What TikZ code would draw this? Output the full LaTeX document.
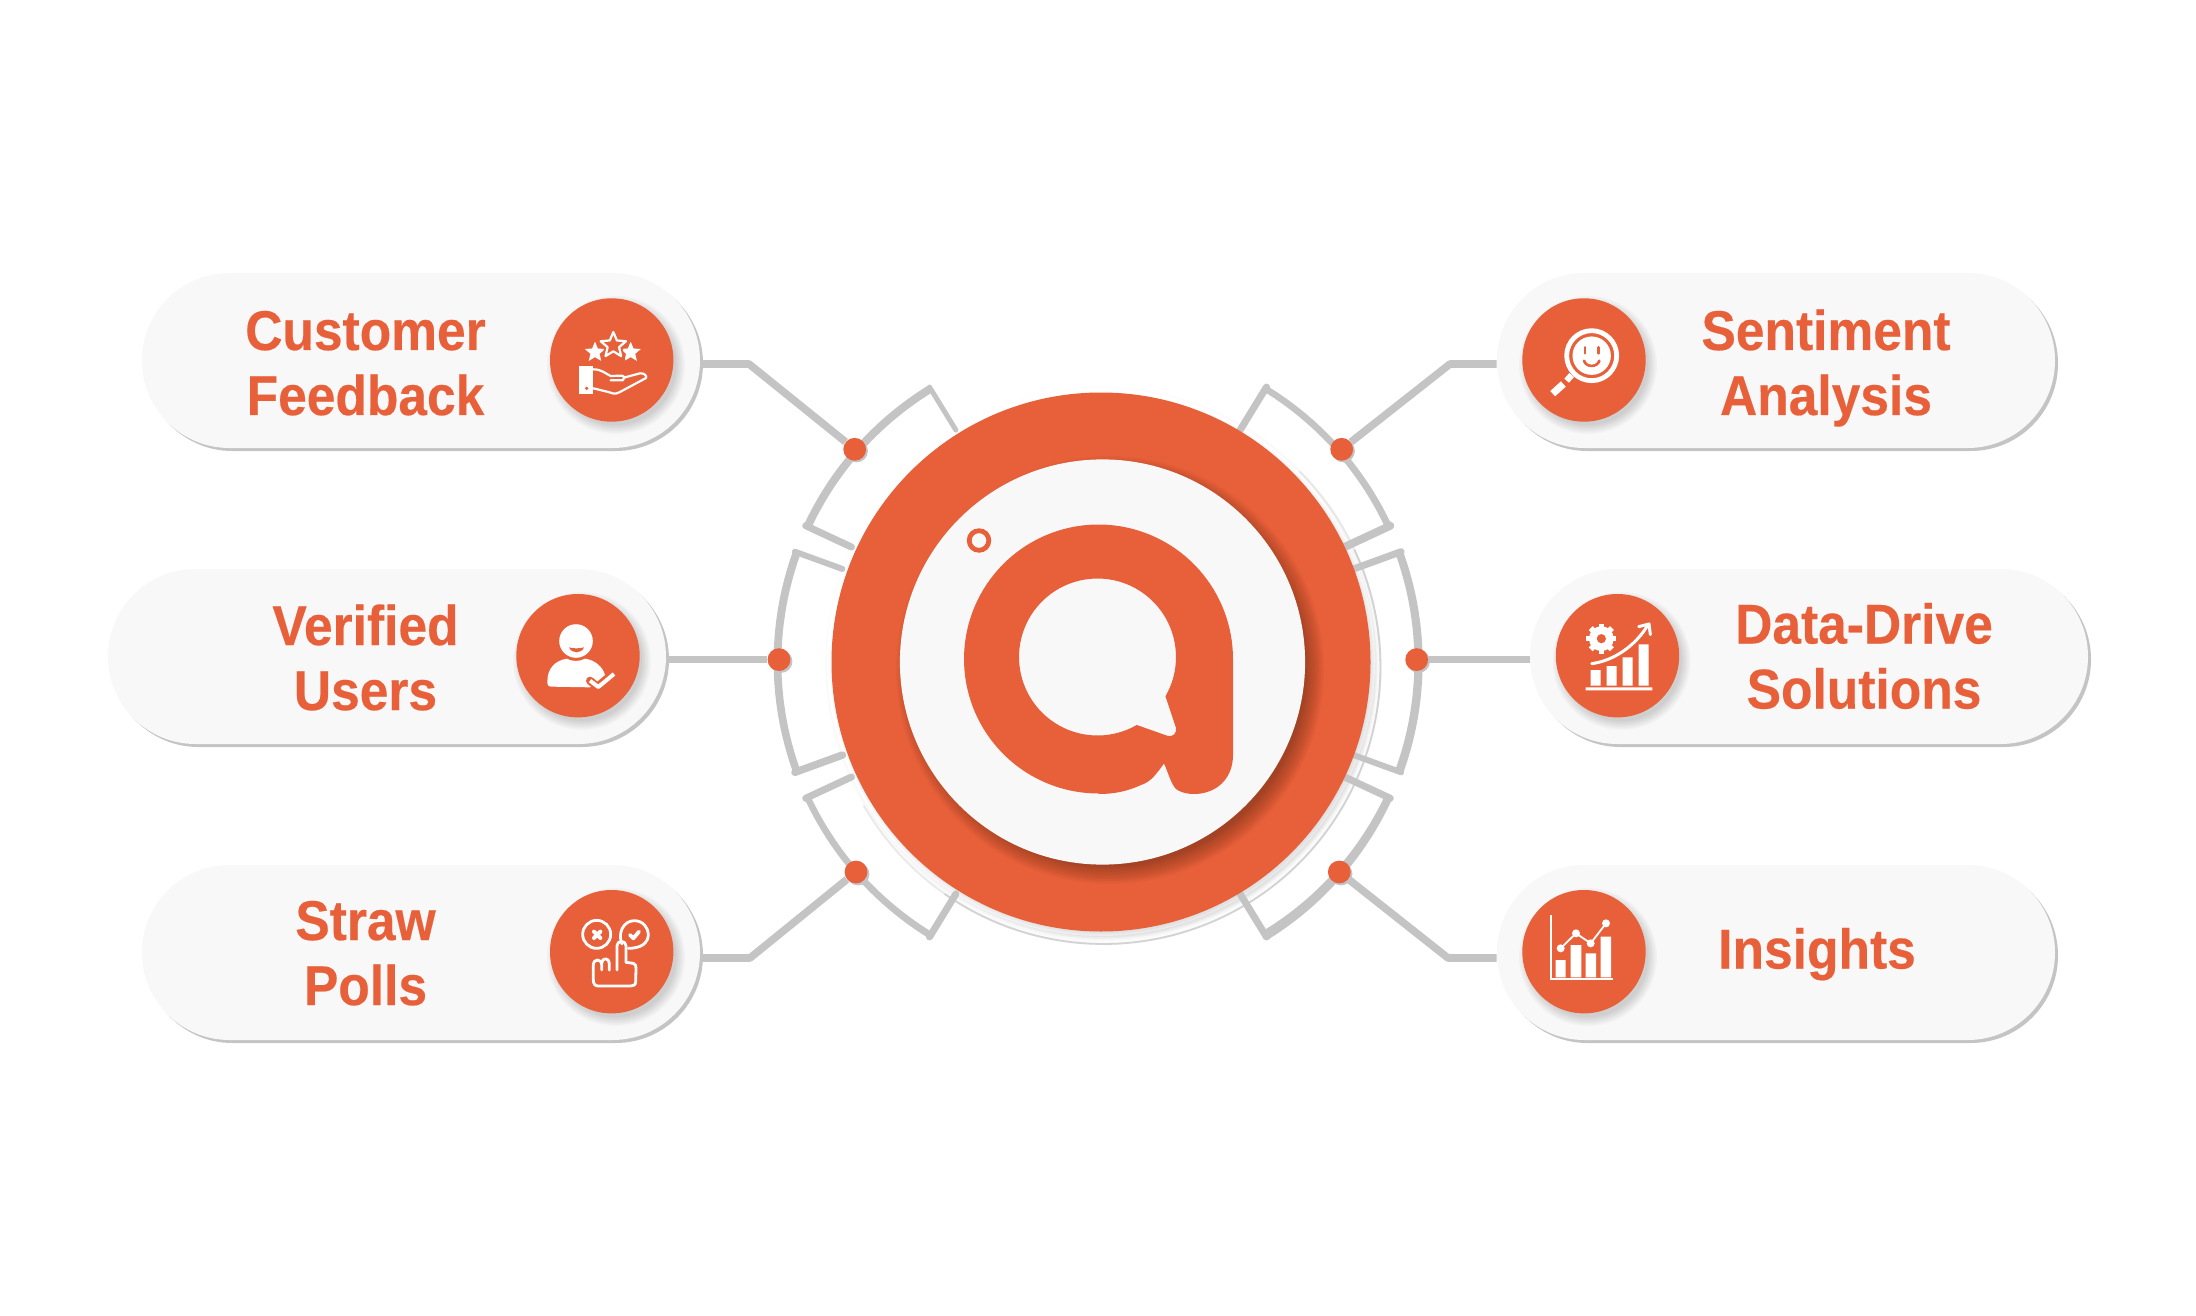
\documentclass[tikz,border=0pt]{standalone}
\usepackage{fontspec}
\setmainfont{Liberation Sans}[FakeStretch=0.92,FakeBold=0.35]
\definecolor{brand}{HTML}{E86039}
\definecolor{barg}{HTML}{C4C4C4}
\definecolor{paper}{HTML}{F8F8F8}
\tikzset{
  pillbox/.style={rectangle,rounded corners=43.7pt,fill=paper,minimum width=#1,minimum height=87.5pt,inner sep=0pt},
  pillrim/.style={rectangle,rounded corners=43.7pt,fill=barg,minimum width=#1,minimum height=87.5pt,inner sep=0pt},
  iconbase/.style={circle,fill=brand,minimum size=61.7pt,inner sep=0pt},
  dotnode/.style={circle,fill=brand,minimum size=11.4pt,inner sep=0pt},
  dotrim/.style={circle,fill=barg,minimum size=11.4pt,inner sep=0pt},
  label/.style={text=brand,font=\fontsize{28}{32.5}\selectfont\bfseries,align=center,inner sep=0pt},
  wire/.style={draw=barg,line width=3.8pt,line join=round},
  tabline/.style={draw=barg,line join=round,line cap=round},
  wl/.style={draw=white,line join=round,line cap=round,line width=#1},
  icn/.style={shift={#1},x=0.16667pt,y=-0.16667pt}
}
\newcommand\softshadow[5]{\foreach \k in {0,1.5,...,#4}{\fill[black,opacity=#5] (#1,#2) circle[radius={(#3+\k)*0.5pt}];}}
\newcommand\arcband[4]{%
  \fill[barg] plot[domain=#1:#2,samples=40,variable=\a] ({1098+(320.5+(#3+(#4-#3)*(\a-(#1))/((#2)-(#1)))/2)*cos(\a)},{662-(320.5+(#3+(#4-#3)*(\a-(#1))/((#2)-(#1)))/2)*sin(\a)})
  -- plot[domain=#2:#1,samples=40,variable=\a] ({1098+(320.5-(#3+(#4-#3)*(\a-(#1))/((#2)-(#1)))/2)*cos(\a)},{662-(320.5-(#3+(#4-#3)*(\a-(#1))/((#2)-(#1)))/2)*sin(\a)}) -- cycle;}
\newcommand\tabbar[2]{\draw[tabline,line width=#2*0.5pt] ({1098+322.5*cos(#1)},{662-322.5*sin(#1)}) -- ({1098+272*cos(#1)},{662-272*sin(#1)});}
\newcommand\iconstar[4]{\path[#4] plot[samples at={0,1,...,9},variable=\t] ({#1+(mod(\t,2)==0?#3:#3*0.45)*cos(90+36*\t)},{#2-(mod(\t,2)==0?#3:#3*0.45)*sin(90+36*\t)}) -- cycle;}
\begin{document}
\begin{tikzpicture}[x=0.5pt,y=-0.5pt]
\useasboundingbox (0,0) rectangle (2196,1316);
\fill[white] (0,0) rectangle (2196,1316);

% halo ring behind the disc
\softshadow{1103}{665}{272}{6}{0.012}
\fill[white] (1101,662) circle[radius=137pt];
\draw[barg,line width=0.9pt,opacity=.35] plot[domain=-150:45,samples=80,variable=\a] ({1103.5+277*cos(\a)},{667-277*sin(\a)});
\draw[barg,line width=0.9pt,opacity=.6] plot[domain=-125:25,samples=80,variable=\a] ({1103.5+277*cos(\a)},{667-277*sin(\a)});
\softshadow{1104}{666}{267}{7}{0.025}

% brackets
\arcband{121.5}{155}{8}{8}  \tabbar{121.5}{5} \tabbar{155}{7}
\arcband{160}{200}{8}{7.5}  \tabbar{160}{6}   \tabbar{200}{7.5}
\arcband{205}{238.5}{6.5}{7}\tabbar{205}{7}   \tabbar{238.5}{7}
\arcband{25}{58.5}{7}{6.5}  \tabbar{25}{8}    \tabbar{58.5}{7}
\arcband{-20}{20}{8.5}{8}   \tabbar{20}{7}    \tabbar{-20}{6}
\arcband{-58.5}{-25}{10}{8} \tabbar{-25}{7}   \tabbar{-58.5}{7}

% pills
\node[pillrim=279pt] at (424,363.5) {};
\node[pillrim=279pt] at (390,659.5) {};
\node[pillrim=279pt] at (424,955.5) {};
\node[pillrim=279pt] at (1779,363.5) {};
\node[pillrim=279pt] at (1812,659.5) {};
\node[pillrim=279pt] at (1779,955.5) {};
\node[pillbox=279pt] (p1) at (421,360.5) {};
\node[pillbox=279pt] (p2) at (387,656.5) {};
\node[pillbox=279pt] (p3) at (421,952.5) {};
\node[pillbox=279pt] (p4) at (1776,360.5) {};
\node[pillbox=279pt] (p5) at (1809,656.5) {};
\node[pillbox=279pt] (p6) at (1776,952.5) {};

% dots
\node[dotrim] at (856.5,451) {};
\node[dotrim] at (781,661.5) {};
\node[dotrim] at (858,874) {};
\node[dotrim] at (1343.5,451) {};
\node[dotrim] at (1418.5,661.5) {};
\node[dotrim] at (1341,874) {};
\node[dotnode] (d1) at (854.7,449.3) {};
\node[dotnode] (d2) at (779,659.6) {};
\node[dotnode] (d3) at (856,872) {};
\node[dotnode] (d4) at (1341.7,449.3) {};
\node[dotnode] (d5) at (1416.7,659.6) {};
\node[dotnode] (d6) at (1339.3,872) {};

% connectors
\coordinate (e1) at (749,364);
\coordinate (e3) at (750,958);
\coordinate (e4) at (1450,364);
\coordinate (e6) at (1448,958);
\draw[wire] (d1) -- (e1) -- (p1.east |- e1);
\draw[wire] (d2) -- (p2.east |- d2);
\draw[wire] (d3) -- (e3) -- (p3.east |- e3);
\draw[wire] (d4) -- (e4) -- (p4.west |- e4);
\draw[wire] (d5) -- (p5.west |- d5);
\draw[wire] (d6) -- (e6) -- (p6.west |- e6);

% central disc
\node[circle,fill=brand,minimum size=269.5pt,inner sep=0pt] (outer) at (1101,662) {};
\softshadow{1110}{670}{196}{18}{0.025}
\node[circle,fill=paper,minimum size=202.6pt,inner sep=0pt] (inner) at (1102.5,662) {};

% logo
\fill[brand,even odd rule]
  plot[domain=180:0,samples=70,variable=\a] ({1098.5+134.5*cos(\a)},{659-134.5*sin(\a)})
  -- (1233,755) .. controls (1233,780) and (1215,794) .. (1194,794)
  .. controls (1186,794) and (1180,792) .. (1176,789)
  .. controls (1171,784) and (1168,772) .. (1164,763.5)
  .. controls (1157,773) and (1151,782) .. (1141,785)
  .. controls (1128,791) and (1115,794) .. (1098.5,794)
  -- plot[domain=270:180,samples=40,variable=\a] ({1098.5+134.5*cos(\a)},{659-134.5*sin(\a)}) -- cycle
  plot[domain=-30:300,samples=90,variable=\a] ({1097.5+78.5*cos(\a)},{657-78.5*sin(\a)})
  -- (1168,736) .. controls (1173,737) and (1177,733) .. (1176,728)
  -- (1165.5,696.4) -- cycle;
\draw[brand,line width=2.4pt] (979,540.5) circle[radius=4.9pt];

% icon circles
\softshadow{616}{365}{60}{9}{0.022}
\softshadow{582}{661}{60}{9}{0.022}
\softshadow{616}{957}{60}{9}{0.022}
\softshadow{1588}{365}{60}{9}{0.022}
\softshadow{1621.5}{661}{60}{9}{0.022}
\softshadow{1588}{957}{60}{9}{0.022}
\node[iconbase] (i1) at (611.7,360) {};
\node[iconbase] (i2) at (578,655.7) {};
\node[iconbase] (i3) at (611.7,951.7) {};
\node[iconbase] (i4) at (1584,360) {};
\node[iconbase] (i5) at (1617.5,655.7) {};
\node[iconbase] (i6) at (1584,951.7) {};

% labels
\node[label] (t1) at (365.5,369.5) {\strut Customer\\\strut Feedback};
\node[label] (t2) at (365.5,664.5) {\strut Verified\\\strut Users};
\node[label] (t3) at (365.5,959.5) {\strut Straw\\\strut Polls};
\node[label] (t4) at (1826,369.5) {\strut Sentiment\\\strut Analysis};
\node[label] (t5) at (1864,663) {\strut Data-Drive\\\strut Solutions};
\node[label] (t6) at (1817,955.5) {\strut Insights};

% feedback icon
\begin{scope}[icn={(540,290)}]
  \iconstar{165}{187}{32}{fill=white}
  \iconstar{272}{187}{32}{fill=white}
  \iconstar{220}{166}{44}{draw=brand,line width=2.6pt,fill=brand}
  \iconstar{220}{166}{40}{draw=white,line width=1.1pt,fill=brand,line join=round}
  \fill[white] (117,228) rectangle (160,312);
  \fill[brand] (140,295) circle[radius=0.9pt];
  \draw[wl=1.1pt] (160,238) .. controls (185,238) and (195,250) .. (212,258)
    -- (245,257) .. controls (255,258) and (255,268) .. (248,271) -- (212,271)
    (255,262) -- (300,250) .. controls (312,248) and (322,258) .. (318,264)
    -- (238,307) .. controls (225,314) and (215,310) .. (205,306) -- (160,295);
\end{scope}

% user icon
\begin{scope}[icn={(510,590)}]
  \fill[white] (198,153) circle[radius=8.4pt];
  \fill[brand] (177,172) .. controls (185,176) and (213,176) .. (222,172) .. controls (215,192) and (185,192) .. (177,172) -- cycle;
  \fill[white] (112,275) .. controls (112,235) and (135,212) .. (170,206)
    .. controls (185,215) and (210,215) .. (225,206)
    .. controls (255,210) and (278,230) .. (285,255)
    -- (240,292) -- (125,290) .. controls (115,290) and (112,285) .. (112,275) -- cycle;
  \draw[brand,line width=4pt,line cap=round] (240,272) -- (265,293) -- (312,252);
  \draw[wl=2pt,line cap=butt] (240,272) -- (265,291) -- (312,252);
\end{scope}

% polls icon
\begin{scope}[icn={(540,880)}]
  \draw[wl=1.4pt] (170,163) circle[radius=7pt];
  \draw[wl=1.4pt] (246,192) .. controls (232,160) and (250,122) .. (283,122) .. controls (310,122) and (325,145) .. (325,163) .. controls (325,188) and (305,205) .. (265,205);
  \draw[wl=2pt] (162,155) -- (181,174) (181,155) -- (162,174);
  \draw[wl=1.9pt] (270,165) -- (280,175) -- (297,155);
  \draw[wl=1.4pt] (231,270) -- (231,197) .. controls (231,180) and (258,180) .. (258,197)
    -- (258,247) -- (280,250) .. controls (287,252) and (288,258) .. (288,265)
    -- (287,305) .. controls (287,315) and (280,318) .. (272,318)
    -- (175,318) .. controls (165,318) and (160,312) .. (160,300)
    -- (160,255) .. controls (160,235) and (185,235) .. (185,255) -- (185,270)
    (185,250) .. controls (185,232) and (208,232) .. (208,250) -- (208,270);
\end{scope}

% magnifier icon
\begin{scope}[icn={(1510,290)}]
  \draw[wl=2.4pt] (245,197) circle[radius=12.5pt];
  \fill[white] (245,197) circle[radius=9.6pt];
  \draw[brand,line width=1.4pt,line cap=round] (225,172) -- (225,190) (265,172) -- (265,190);
  \draw[brand,line width=1.3pt,line cap=round] (222,212) .. controls (228,233) and (262,233) .. (268,212);
  \draw[white,line width=3.1pt] (185,255) -- (170,272);
  \draw[white,line width=3.6pt] (160,282) -- (128,311);
\end{scope}

% data icon
\begin{scope}[icn={(1540,590)}]
  \fill[white] (184,146) circle[radius=6.2pt];
  \foreach \g in {0,45,...,315}{\draw[white,line width=2.8pt] ({184+30*cos(\g)},{146-30*sin(\g)}) -- ({184+45*cos(\g)},{146-45*sin(\g)});}
  \fill[brand] (184,146) circle[radius=2.3pt];
  \fill[white] (152,240) rectangle (182,287) (200,228) rectangle (230,287) (248,202) rectangle (278,287) (296,163) rectangle (326,287) (137,292) rectangle (337,301);
  \draw[wl=1.5pt] (155,221) .. controls (220,212) and (285,170) .. (325,103);
  \draw[wl=1.5pt] (296,110) -- (327,102) -- (331,134);
\end{scope}

% chart icon
\begin{scope}[icn={(1510,880)}]
  \draw[white,line width=1pt] (122,105) -- (122,297) -- (310,297);
  \fill[white] (137,240) rectangle (167,292) (182,195) rectangle (214,292) (227,220) rectangle (258,292) (272,170) rectangle (303,292);
  \draw[white,line width=0.9pt] (152,205) -- (198,160) -- (242,190) -- (288,130);
  \foreach \p/\q in {152/205,198/160,242/190,288/130}{\fill[white] (\p,\q) circle[radius=2pt];}
\end{scope}
\end{tikzpicture}
\end{document}
